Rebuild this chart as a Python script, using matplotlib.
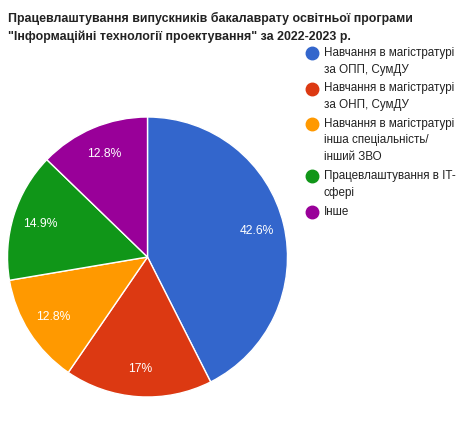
import matplotlib.pyplot as plt
from matplotlib.lines import Line2D

plt.rcParams['font.family'] = ['Liberation Sans', 'DejaVu Sans']

title = ('Працевлаштування випускників бакалаврату освітньої програми\n'
         '"Інформаційні технології проектування" за 2022-2023 р.')
categories = [
    'Навчання в магістратурі\nза ОПП, СумДУ',
    'Навчання в магістратурі\nза ОНП, СумДУ',
    'Навчання в магістратурі\nінша спеціальність/\nінший ЗВО',
    'Працевлаштування в IT-\nсфері',
    'Інше',
]
counts = [20, 8, 6, 7, 6]
colors = ['#3366cc', '#dc3912', '#ff9900', '#109618', '#990099']

W, H = 461, 422


def fmt_pct(p):
    return f'{p:.1f}'.rstrip('0').rstrip('.') + '%'


fig = plt.figure(figsize=(W / 100, H / 100), dpi=100)
fig.patch.set_facecolor('white')

# pie centre ~ (147.5, 257) px, radius ~140 px
ax = fig.add_axes([7.5 / W, (H - 397) / H, 280 / W, 280 / H])
wedges, texts, autotexts = ax.pie(
    counts, colors=colors, startangle=90, counterclock=False,
    autopct=fmt_pct, pctdistance=0.8,
    wedgeprops={'edgecolor': 'white', 'linewidth': 1},
    textprops={'color': 'white', 'fontsize': 8.7},
)
ax.set_xlim(-1, 1)
ax.set_ylim(-1, 1)
ax.set_aspect('equal')
for w in wedges:
    w.set_clip_on(False)

for i, line in enumerate(title.split('\n')):
    fig.text(8 / W, 1 - (18 + 19 * i) / H, line, fontsize=8.9,
             fontweight='bold', va='center', ha='left', color='#222222')

# legend on the right
y = 53
for label, color in zip(categories, colors):
    fig.add_artist(Line2D([312 / W], [1 - y / H], marker='o', markersize=9,
                          color=color, transform=fig.transFigure))
    lines = label.split('\n')
    for i, line in enumerate(lines):
        fig.text(324 / W, 1 - (y + 16.5 * i) / H, line, fontsize=8.4,
                 va='center', ha='left', color='#222222')
    y += 16.5 * (len(lines) - 1) + 19

fig.savefig('out.png', dpi=100)
